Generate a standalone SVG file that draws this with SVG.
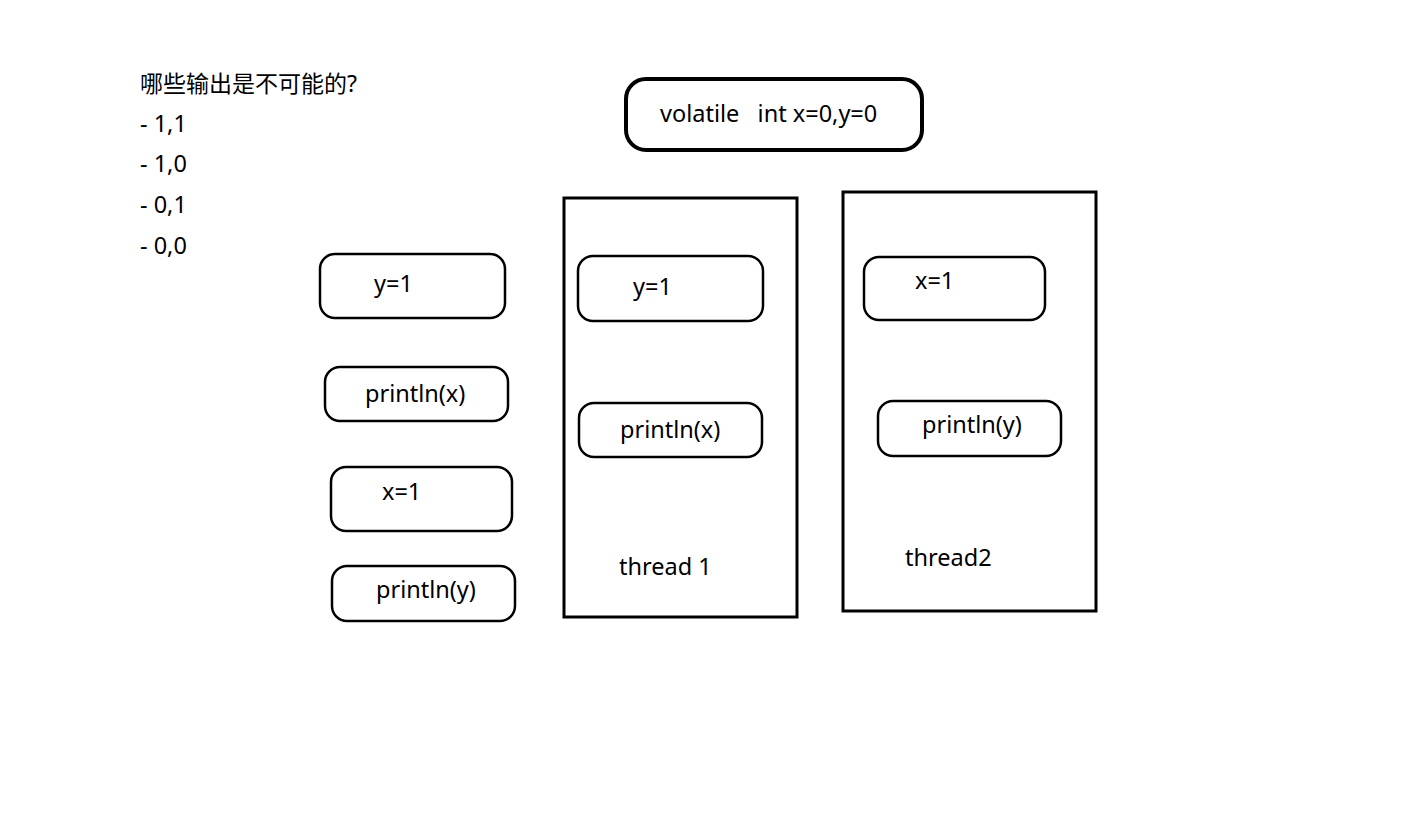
<svg xmlns="http://www.w3.org/2000/svg" width="1428" height="824" viewBox="0 0 1428 824">
<style>
text{font-family:"Noto Sans","Noto Sans CJK SC",sans-serif;font-size:23.5px;fill:#000;white-space:pre}
.cjk{font-size:23px}
.box{fill:none;stroke:#000;stroke-width:2.5}
.frame{fill:none;stroke:#000;stroke-width:3}
.top{fill:none;stroke:#000;stroke-width:4}
</style>
<rect width="1428" height="824" fill="#fff"/>
<g id="question">
<text class="cjk" x="140" y="92">哪些输出是不可能的?</text>
<text x="140" y="132">- 1,1</text>
<text x="140" y="172">- 1,0</text>
<text x="140" y="213">- 0,1</text>
<text x="140" y="254">- 0,0</text>
</g>
<g id="volatile">
<rect class="top" x="626" y="79" width="296" height="71" rx="20"/>
<text x="660" y="122" xml:space="preserve">volatile   int x=0,y=0</text>
</g>
<g id="order">
<g id="o1"><rect class="box" x="320" y="254" width="185" height="64" rx="15"/><text x="374" y="292">y=1</text></g>
<g id="o2"><rect class="box" x="325" y="367" width="183" height="54" rx="15"/><text x="365" y="402">println(x)</text></g>
<g id="o3"><rect class="box" x="331" y="467" width="181" height="64" rx="15"/><text x="382" y="500">x=1</text></g>
<g id="o4"><rect class="box" x="332" y="566" width="183" height="55" rx="15"/><text x="376" y="598">println(y)</text></g>
</g>
<g id="thread1">
<rect class="frame" x="564" y="198" width="233" height="419"/>
<g id="t1a"><rect class="box" x="578" y="256" width="185" height="65" rx="15"/><text x="633" y="295">y=1</text></g>
<g id="t1b"><rect class="box" x="579" y="403" width="183" height="54" rx="15"/><text x="620" y="438">println(x)</text></g>
<text x="619" y="575">thread 1</text>
</g>
<g id="thread2">
<rect class="frame" x="843" y="192" width="253" height="419"/>
<g id="t2a"><rect class="box" x="864" y="257" width="181" height="63" rx="15"/><text x="915" y="289">x=1</text></g>
<g id="t2b"><rect class="box" x="878" y="401" width="183" height="55" rx="15"/><text x="922" y="433">println(y)</text></g>
<text x="905" y="566">thread2</text>
</g>
<g id="connectors"/>
</svg>
